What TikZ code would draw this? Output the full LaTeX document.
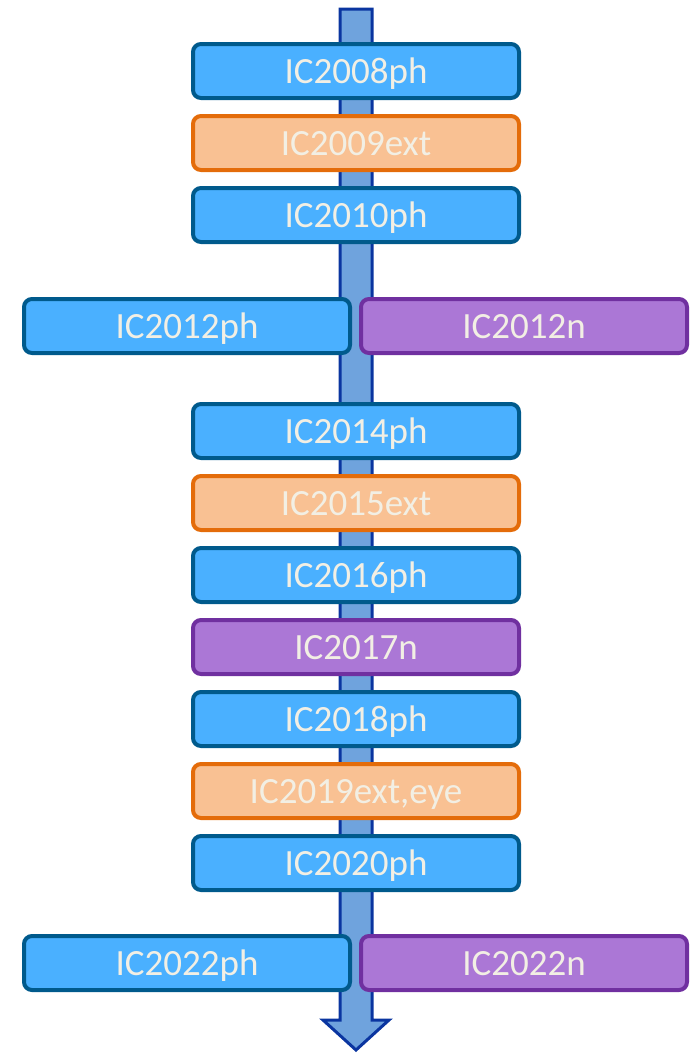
\documentclass[tikz,border=0pt]{standalone}
\usepackage{fontspec}
\setmainfont{Carlito}
\usetikzlibrary{positioning}
\definecolor{phfill}{HTML}{4AB0FF}
\definecolor{phline}{HTML}{005A8C}
\definecolor{extfill}{HTML}{F9C193}
\definecolor{extline}{HTML}{E46C0A}
\definecolor{nfill}{HTML}{AB77D6}
\definecolor{nline}{HTML}{7030A0}
\definecolor{arrfill}{HTML}{6FA3DD}
\definecolor{arrline}{HTML}{0A35A0}
\definecolor{txtcol}{HTML}{F2EFE4}

\tikzset{
  conf/.style={rounded corners=8pt, line width=4pt, minimum width=326pt, minimum height=54pt,
    text height=26pt, text depth=2pt, inner sep=0pt,
    text=txtcol, font=\fontsize{37}{40}\selectfont},
  phbox/.style={conf, draw=phline, fill=phfill},
  extbox/.style={conf, draw=extline, fill=extfill},
  nbox/.style={conf, draw=nline, fill=nfill}
}

\begin{document}
\begin{tikzpicture}[x=1pt,y=-1pt]
\useasboundingbox (0,0) rectangle (694,1053);
% Timeline arrow
\draw[line width=3pt, arrline, fill=arrfill, line join=miter]
  (340,9) -- (372,9) -- (372,1020) -- (389,1020) -- (356,1050) -- (323,1020) -- (340,1020) -- cycle;

% Conferences
\node[phbox] (ic08) at (356,71) {IC2008ph};
\node[extbox] (ic09) at (356,143) {IC2009ext};
\node[phbox] (ic10) at (356,215) {IC2010ph};
\node[phbox] (ic12ph) at (187,326) {IC2012ph};
\node[nbox] (ic12n) at (524,326) {IC2012n};
\node[phbox] (ic14) at (356,431) {IC2014ph};
\node[extbox] (ic15) at (356,503) {IC2015ext};
\node[phbox] (ic16) at (356,575) {IC2016ph};
\node[nbox] (ic17) at (356,647) {IC2017n};
\node[phbox] (ic18) at (356,719) {IC2018ph};
\node[extbox] (ic19) at (356,791) {IC2019ext,eye};
\node[phbox] (ic20) at (356,863) {IC2020ph};
\node[phbox] (ic22ph) at (187,963) {IC2022ph};
\node[nbox] (ic22n) at (524,963) {IC2022n};
\end{tikzpicture}
\end{document}
